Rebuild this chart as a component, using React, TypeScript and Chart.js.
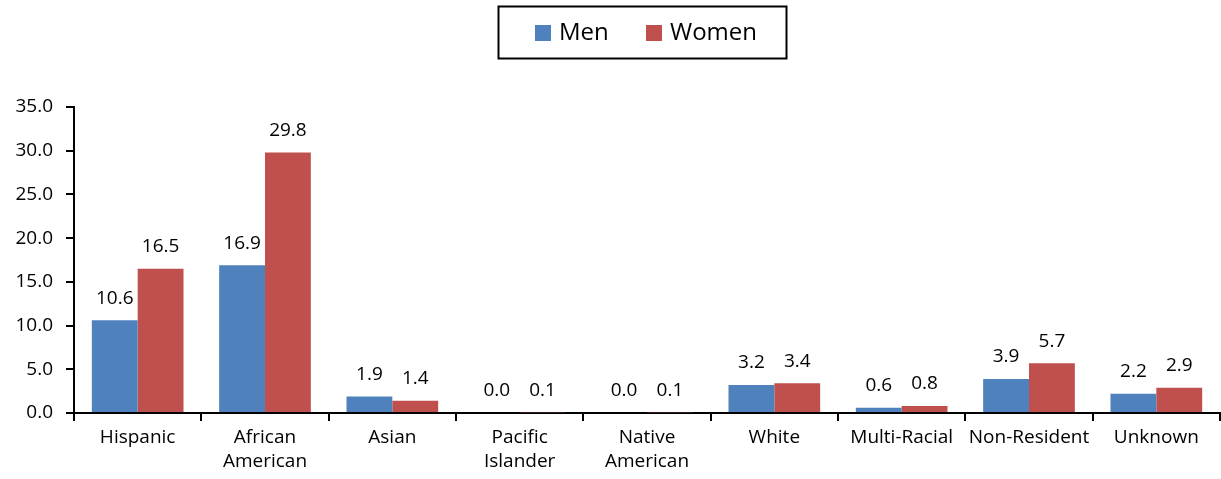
import React, { useEffect, useRef } from "react";
import { Chart, registerables } from "chart.js";

Chart.register(...registerables);

const categories: (string | string[])[] = [
  "Hispanic",
  ["African", "American"],
  "Asian",
  ["Pacific", "Islander"],
  ["Native", "American"],
  "White",
  "Multi-Racial",
  "Non-Resident",
  "Unknown",
];
const menValues = [10.6, 16.9, 1.9, 0.0, 0.0, 3.2, 0.6, 3.9, 2.2];
const womenValues = [16.5, 29.8, 1.4, 0.1, 0.1, 3.4, 0.8, 5.7, 2.9];
const seriesNames = ["Men", "Women"];
const seriesColors = ["#4F81BD", "#C0504D"];

const FONT = "'Open Sans', sans-serif";

const dataLabelPlugin = {
  id: "dataLabels",
  afterDatasetsDraw(chart: any) {
    const ctx = chart.ctx;
    ctx.save();
    ctx.font = `19px ${FONT}`;
    ctx.fillStyle = "#000";
    ctx.textAlign = "center";
    ctx.textBaseline = "middle";
    chart.data.datasets.forEach((ds: any, i: number) => {
      const meta = chart.getDatasetMeta(i);
      meta.data.forEach((bar: any, j: number) => {
        const v = ds.data[j] as number;
        ctx.fillText(v.toFixed(1), bar.x, bar.y - 22);
      });
    });
    ctx.restore();
  },
};

const boxedLegendPlugin = {
  id: "boxedLegend",
  afterDraw(chart: any) {
    const ctx = chart.ctx;
    ctx.save();
    const left = 498.5;
    const top = 6.5;
    const width = 288;
    const height = 52;
    ctx.strokeStyle = "#000";
    ctx.lineWidth = 2;
    ctx.strokeRect(left, top, width, height);
    ctx.font = `24px ${FONT}`;
    ctx.textBaseline = "middle";
    ctx.textAlign = "left";
    const cy = 33;
    const starts = [535, 646];
    chart.data.datasets.forEach((ds: any, i: number) => {
      const x = starts[i];
      ctx.fillStyle = ds.backgroundColor;
      ctx.fillRect(x, cy - 8, 16, 16);
      ctx.fillStyle = "#000";
      ctx.fillText(ds.label, x + 24, cy);
    });
    ctx.restore();
  },
};

export default function App() {
  const ref = useRef<HTMLCanvasElement>(null);
  useEffect(() => {
    if (!ref.current) return;
    const chart = new Chart(ref.current, {
      type: "bar",
      data: {
        labels: categories,
        datasets: [
          {
            label: seriesNames[0],
            data: menValues,
            backgroundColor: seriesColors[0],
            categoryPercentage: 0.72,
            barPercentage: 1.0,
          },
          {
            label: seriesNames[1],
            data: womenValues,
            backgroundColor: seriesColors[1],
            categoryPercentage: 0.72,
            barPercentage: 1.0,
          },
        ],
      },
      options: {
        responsive: false,
        animation: false,
        devicePixelRatio: 1,
        layout: { padding: { top: 107, right: 1, left: 0, bottom: 0 } },
        plugins: {
          legend: { display: false },
          tooltip: { enabled: false },
        },
        scales: {
          x: {
            grid: {
              display: true,
              drawOnChartArea: false,
              drawTicks: true,
              tickLength: 8,
              color: "#000",
              lineWidth: 2,
              offset: true,
            },
            border: { display: true, color: "#000", width: 2 },
            ticks: {
              color: "#000",
              font: { family: FONT, size: 19, lineHeight: 1.3 },
              padding: 4,
              maxRotation: 0,
              autoSkip: false,
            },
            afterFit(scale: any) {
              scale.height = 66;
            },
          },
          y: {
            min: 0,
            max: 35,
            grid: {
              display: true,
              drawOnChartArea: false,
              drawTicks: true,
              tickLength: 8,
              color: "#000",
              lineWidth: 2,
            },
            border: { display: true, color: "#000", width: 2 },
            ticks: {
              stepSize: 5,
              color: "#000",
              font: { family: FONT, size: 19 },
              padding: 13,
              callback: (v: any) => Number(v).toFixed(1),
            },
            afterFit(scale: any) {
              scale.width = 74;
            },
          },
        },
      },
      plugins: [dataLabelPlugin, boxedLegendPlugin],
    });
    return () => chart.destroy();
  }, []);
  return (
    <div style={{ position: "fixed", left: 0, top: 0, width: 1221, height: 479, background: "#fff" }}>
      <canvas ref={ref} width={1221} height={479} style={{ width: 1221, height: 479, display: "block" }} />
    </div>
  );
}
